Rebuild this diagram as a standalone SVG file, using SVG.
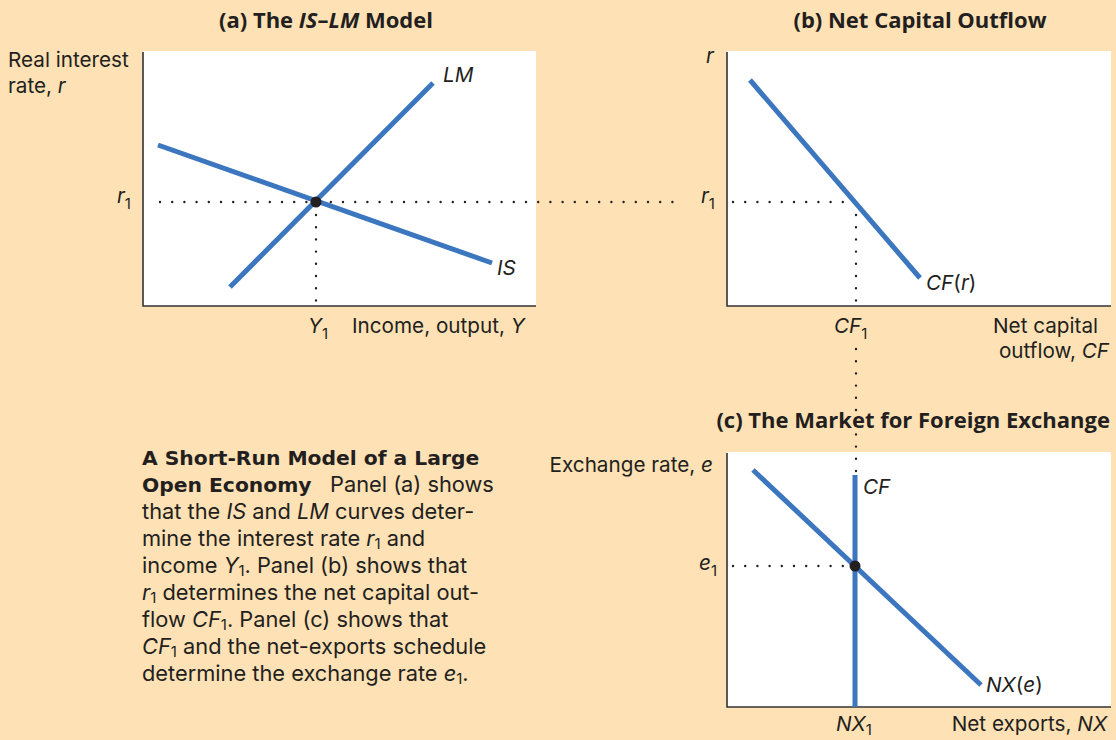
<svg xmlns="http://www.w3.org/2000/svg" width="1116" height="740" viewBox="0 0 1116 740">
<style>
.t{font-family:Inter,"Open Sans",sans-serif;fill:#231f20;font-size:20.7px}
.c{font-family:Inter,"Open Sans",sans-serif;fill:#231f20;font-size:21.8px}
.h{font-family:"Open Sans","Noto Sans",sans-serif;fill:#231f20;font-size:22px;font-weight:bold}
.cb{font-family:"DejaVu Sans","Liberation Sans",sans-serif;fill:#231f20;font-size:20.3px;font-weight:bold}
.i{font-style:italic}
.sub{font-size:15px}
.panel{fill:#ffffff}
.axis{fill:none;stroke:#333333;stroke-width:1.6}
.curve{fill:none;stroke:#3b76bf;stroke-width:5}
.dot{fill:none;stroke:#231f20;stroke-width:2.4;stroke-linecap:round;stroke-dasharray:0 12.2}
.pt{fill:#231f20}
</style>
<rect width="1116" height="740" fill="#fee2b5"/>

<g id="panel-a">
<rect class="panel" x="143" y="51" width="393" height="255"/>
<polyline class="axis" points="143,52 143,306 536,306"/>
<text class="h" x="326" y="28" text-anchor="middle">(a) The <tspan class="i">IS</tspan>–<tspan class="i">LM</tspan> Model</text>
<text class="t" x="8" y="67">Real interest</text>
<text class="t" x="8" y="93">rate, <tspan class="i">r</tspan></text>
<text class="t" x="117" y="203"><tspan class="i">r</tspan><tspan class="sub" dy="6">1</tspan></text>
<text class="t" x="308" y="333"><tspan class="i">Y</tspan><tspan class="sub" dy="6">1</tspan></text>
<text class="t" x="352" y="333">Income, output, <tspan class="i">Y</tspan></text>
<text class="t i" x="443" y="82">LM</text>
<text class="t i" x="497" y="275">IS</text>
</g>

<g id="panel-b">
<rect class="panel" x="727" y="51" width="384" height="255"/>
<polyline class="axis" points="727,52 727,306 1111,306"/>
<text class="h" x="920" y="28" text-anchor="middle">(b) Net Capital Outflow</text>
<text class="t i" x="706" y="63">r</text>
<text class="t" x="701" y="203"><tspan class="i">r</tspan><tspan class="sub" dy="6">1</tspan></text>
<text class="t" x="926" y="290"><tspan class="i">CF</tspan>(<tspan class="i">r</tspan>)</text>
<text class="t" x="834" y="333"><tspan class="i">CF</tspan><tspan class="sub" dy="6">1</tspan></text>
<text class="t" x="993" y="333">Net capital</text>
<text class="t" x="1109" y="358" text-anchor="end">outflow, <tspan class="i">CF</tspan></text>
</g>

<g id="panel-c">
<rect class="panel" x="727" y="452" width="384" height="255"/>
<polyline class="axis" points="727,453 727,707 1111,707"/>
<text class="h" x="1110" y="428" text-anchor="end">(c) The Market for Foreign Exchange</text>
<text class="t" x="713" y="472" text-anchor="end">Exchange rate, <tspan class="i">e</tspan></text>
<text class="t i" x="863" y="494">CF</text>
<text class="t" x="699" y="570"><tspan class="i">e</tspan><tspan class="sub" dy="6">1</tspan></text>
<text class="t" x="986" y="692"><tspan class="i">NX</tspan>(<tspan class="i">e</tspan>)</text>
<text class="t" x="836" y="731"><tspan class="i">NX</tspan><tspan class="sub" dy="4">1</tspan></text>
<text class="t" x="1107" y="731" text-anchor="end">Net exports, <tspan class="i">NX</tspan></text>
</g>

<g id="curves">
<line class="curve" x1="158" y1="145" x2="492" y2="263"/>
<line class="curve" x1="230" y1="287" x2="433" y2="83"/>
<line class="curve" x1="750" y1="80" x2="920" y2="278"/>
<line class="curve" x1="753" y1="470" x2="981" y2="685"/>
<line class="curve" x1="855" y1="475" x2="855" y2="707"/>
</g>

<g id="connectors">
<line class="dot" x1="160" y1="202" x2="684" y2="202"/>
<line class="dot" x1="733" y1="202" x2="850" y2="202"/>
<line class="dot" x1="316" y1="215" x2="316" y2="303"/>
<line class="dot" x1="856" y1="215" x2="856" y2="303"/>
<line class="dot" x1="856" y1="349" x2="856" y2="471"/>
<line class="dot" x1="733" y1="566" x2="846" y2="566"/>
<circle class="pt" cx="316" cy="202" r="5.5"/>
<circle class="pt" cx="855" cy="566" r="5.5"/>
</g>

<g id="caption">
<text class="cb" x="142" y="465">A Short-Run Model of a Large</text>
<text class="c" x="142" y="492"><tspan class="cb">Open Economy</tspan><tspan x="330">Panel (a) shows</tspan></text>
<text class="c" x="142" y="519">that the <tspan class="i">IS</tspan> and <tspan class="i">LM</tspan> curves deter-</text>
<text class="c" x="142" y="546">mine the interest rate <tspan class="i">r</tspan><tspan class="sub" dy="3">1</tspan><tspan dy="-3"> and</tspan></text>
<text class="c" x="142" y="573">income <tspan class="i">Y</tspan><tspan class="sub" dy="3">1</tspan><tspan dy="-3">. Panel (b) shows that</tspan></text>
<text class="c" x="142" y="600"><tspan class="i">r</tspan><tspan class="sub" dy="3">1</tspan><tspan dy="-3"> determines the net capital out-</tspan></text>
<text class="c" x="142" y="627">flow <tspan class="i">CF</tspan><tspan class="sub" dy="3">1</tspan><tspan dy="-3">. Panel (c) shows that</tspan></text>
<text class="c" x="142" y="654"><tspan class="i">CF</tspan><tspan class="sub" dy="3">1</tspan><tspan dy="-3"> and the net-exports schedule</tspan></text>
<text class="c" x="142" y="681">determine the exchange rate <tspan class="i">e</tspan><tspan class="sub" dy="3">1</tspan><tspan dy="-3">.</tspan></text>
</g>
</svg>
